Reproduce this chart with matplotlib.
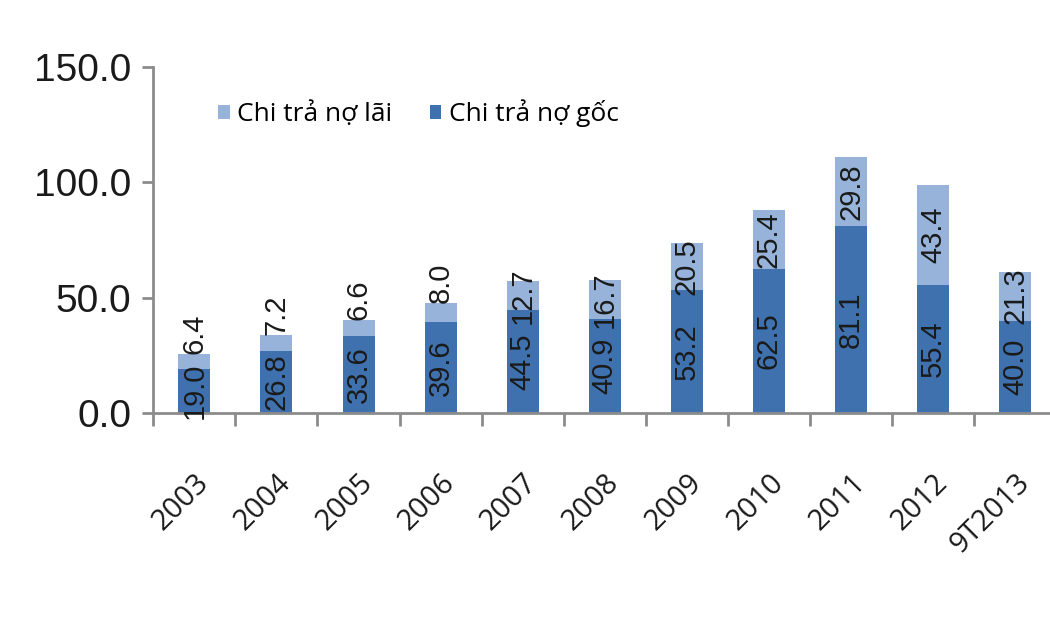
import numpy as np
import matplotlib.pyplot as plt

# Data
years = ["2003", "2004", "2005", "2006", "2007", "2008", "2009", "2010", "2011", "2012", "9T2013"]
goc = [19.0, 26.8, 33.6, 39.6, 44.5, 40.9, 53.2, 62.5, 81.1, 55.4, 40.0]
lai = [6.4, 7.2, 6.6, 8.0, 12.7, 16.7, 20.5, 25.4, 29.8, 43.4, 21.3]

dark = "#3f71ae"
light = "#97b3d9"
axis_grey = "#8c8c8c"
txt = "#1a1a1a"
num_font = ["Liberation Sans", "DejaVu Sans"]

plt.rcParams["font.family"] = ["Open Sans", "DejaVu Sans"]

fig = plt.figure(figsize=(10.5, 6.3), dpi=100)
ax = fig.add_axes([0.146, 0.3444, 0.86, 0.5493])

x = np.arange(len(years))
w = 0.39
b1 = ax.bar(x, goc, w, color=dark, label="Chi trả nợ gốc")
b2 = ax.bar(x, lai, w, bottom=goc, color=light, label="Chi trả nợ lãi")

# value labels, rotated; small top segments get their label just above the bar
for xi, g, l in zip(x, goc, lai):
    ax.text(xi, g / 2, f"{g:.1f}", rotation=90, ha="center", va="center",
            fontsize=21, color=txt, family=num_font)
    if l < 10:
        ax.text(xi, g + l, f"{l:.1f}", rotation=90, ha="center", va="bottom",
                fontsize=21, color=txt, family=num_font)
    else:
        ax.text(xi, g + l / 2, f"{l:.1f}", rotation=90, ha="center", va="center",
                fontsize=21, color=txt, family=num_font)

ax.set_xlim(-0.5, len(years) - 0.5)
ax.set_ylim(0, 150)
ax.set_yticks([0, 50, 100, 150])
ax.set_yticklabels(["0.0", "50.0", "100.0", "150.0"], fontsize=28,
                   family=num_font, color=txt)

# category labels at centres, tick marks between categories
ax.set_xticks(x)
ax.set_xticklabels(years, rotation=45, ha="right", rotation_mode="anchor",
                   fontsize=21, color=txt)
ax.tick_params(axis="x", length=0, pad=40)
ax.set_xticks(np.arange(-0.5, len(years)), minor=True)
ax.tick_params(axis="x", which="minor", length=9, width=2, color=axis_grey, direction="out")
ax.tick_params(axis="y", length=8, width=2, color=axis_grey, pad=8)

for s in ["top", "right"]:
    ax.spines[s].set_visible(False)
for s in ["left", "bottom"]:
    ax.spines[s].set_color(axis_grey)
    ax.spines[s].set_linewidth(2)

handles = [b2, b1]
ax.legend(handles, [h.get_label() for h in handles], loc="upper left",
          bbox_to_anchor=(0.045, 0.975), ncol=2, frameon=False, fontsize=19,
          handlelength=0.45, handleheight=0.45, handletextpad=0.3, columnspacing=1.4)

fig.savefig("out.png", dpi=100)
